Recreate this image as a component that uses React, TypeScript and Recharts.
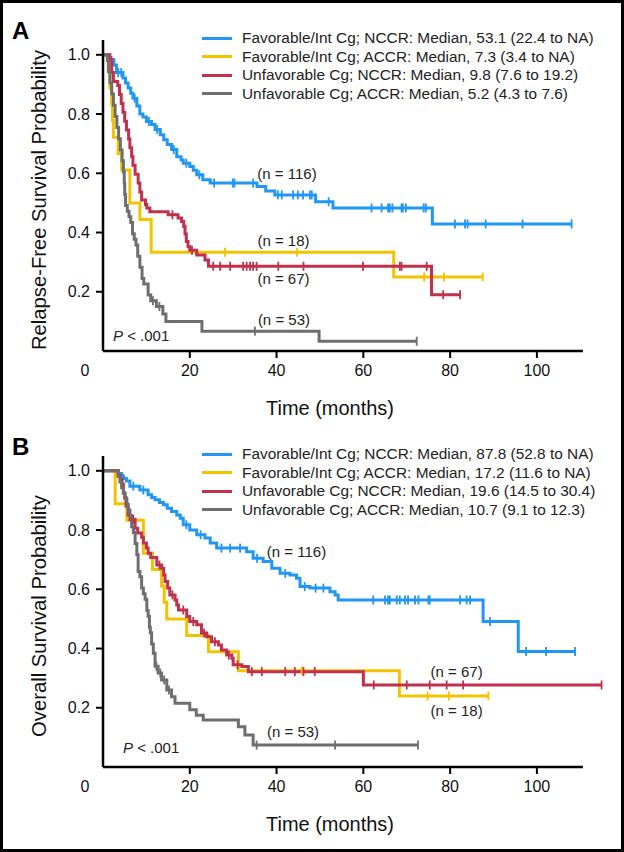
import React from "react";
import { LineChart, Line, XAxis, YAxis, ReferenceLine, ReferenceDot } from "recharts";

// [months, survival, censored?]
type Row = [number, number, number?];

const xTicks = [0, 20, 40, 60, 80, 100];
const yTicks = [0.2, 0.4, 0.6, 0.8, 1.0];
const axisEnd = 110.6;

const colors = ["#2196F3", "#F2C300", "#C1304C", "#6E6E6E"];

const rfsNames = [
  "Favorable/Int Cg; NCCR: Median, 53.1 (22.4 to NA)",
  "Favorable/Int Cg; ACCR: Median, 7.3 (3.4 to NA)",
  "Unfavorable Cg; NCCR: Median, 9.8 (7.6 to 19.2)",
  "Unfavorable Cg; ACCR: Median, 5.2 (4.3 to 7.6)",
];
const osNames = [
  "Favorable/Int Cg; NCCR: Median, 87.8 (52.8 to NA)",
  "Favorable/Int Cg; ACCR: Median, 17.2 (11.6 to NA)",
  "Unfavorable Cg; NCCR: Median, 19.6 (14.5 to 30.4)",
  "Unfavorable Cg; ACCR: Median, 10.7 (9.1 to 12.3)",
];

// Panel A: relapse-free survival
const rfsFavNccr: Row[] = [
  [0, 1], [1.3, 0.991], [1.8, 0.983], [2.5, 0.966], [3.1, 0.94], [3.5, 0.94, 1], [4.2, 0.94, 1],
  [4.6, 0.922], [5.2, 0.905], [5.8, 0.888], [6.4, 0.87], [6.9, 0.853], [7.3, 0.853, 1], [7.8, 0.827],
  [8.5, 0.8], [9.2, 0.79], [10.0, 0.775], [10.6, 0.775, 1], [11.2, 0.765], [12.0, 0.748], [12.5, 0.748, 1],
  [13.2, 0.73], [14.0, 0.713], [14.8, 0.697], [15.8, 0.68], [16.3, 0.68, 1], [17.0, 0.656], [18.0, 0.645],
  [18.5, 0.634], [19.2, 0.634, 1], [20.0, 0.623], [20.8, 0.61], [21.6, 0.595], [22.2, 0.595, 1],
  [23.0, 0.578], [24.7, 0.567], [25.6, 0.567, 1], [29.9, 0.567, 1], [30.3, 0.567, 1], [34.6, 0.567, 1],
  [35.5, 0.555], [37.5, 0.54], [39.6, 0.527], [40.3, 0.527, 1], [41.2, 0.527, 1], [43.8, 0.527, 1],
  [44.9, 0.527, 1], [46.1, 0.527, 1], [47.7, 0.527, 1], [48.1, 0.527, 1], [49.0, 0.504], [52.0, 0.504, 1],
  [53.0, 0.483], [61.9, 0.483, 1], [64.2, 0.483, 1], [65.7, 0.483, 1], [66.1, 0.483, 1], [66.7, 0.483, 1],
  [68.8, 0.483, 1], [69.1, 0.483, 1], [69.8, 0.483, 1], [73.9, 0.483, 1], [74.4, 0.483, 1], [75.9, 0.429],
  [81.1, 0.429, 1], [83.4, 0.429, 1], [84.0, 0.429, 1], [88.2, 0.429, 1], [96.7, 0.429, 1], [108.0, 0.429, 1],
];
const rfsFavAccr: Row[] = [
  [0, 1], [1.2, 0.944], [1.6, 0.889], [2.0, 0.833], [2.2, 0.778], [2.4, 0.722], [3.5, 0.667],
  [4.3, 0.611], [6.2, 0.5], [8.5, 0.444], [11.1, 0.333], [28.1, 0.333, 1], [44.7, 0.333, 1],
  [67.0, 0.25], [74.0, 0.25, 1], [78.6, 0.25, 1], [87.5, 0.25, 1],
];
const rfsUnfNccr: Row[] = [
  [0, 1], [1.6, 0.985], [2.0, 0.94], [2.4, 0.91], [3.4, 0.896], [3.8, 0.866], [4.2, 0.836], [4.6, 0.806],
  [5.0, 0.776], [5.4, 0.746], [5.9, 0.716], [6.2, 0.686], [6.6, 0.657], [6.9, 0.627], [7.4, 0.597],
  [8.1, 0.567], [8.5, 0.537], [8.9, 0.51], [9.8, 0.495], [10.1, 0.483], [10.8, 0.47], [15.0, 0.46],
  [16.0, 0.46, 1], [17.3, 0.449], [18.1, 0.437], [18.6, 0.42], [18.9, 0.395], [19.2, 0.37], [19.6, 0.352],
  [20.0, 0.34], [20.5, 0.34, 1], [21.6, 0.324], [23.5, 0.307], [24.3, 0.286], [25.4, 0.286, 1],
  [27.0, 0.286, 1], [29.3, 0.286, 1], [32.3, 0.286, 1], [33.1, 0.286, 1], [33.9, 0.286, 1], [34.6, 0.286, 1],
  [35.4, 0.286, 1], [40.4, 0.286, 1], [46.2, 0.286, 1], [59.9, 0.286, 1], [68.4, 0.286, 1], [68.8, 0.286, 1],
  [74.6, 0.286, 1], [75.7, 0.19], [78.4, 0.19, 1], [82.3, 0.19, 1],
];
const rfsUnfAccr: Row[] = [
  [0, 1], [1.0, 0.981], [1.3, 0.943], [1.6, 0.906], [2.0, 0.868], [2.4, 0.83], [2.8, 0.792], [3.2, 0.755],
  [3.6, 0.717], [4.0, 0.679], [4.4, 0.642], [4.7, 0.604], [4.9, 0.566], [5.0, 0.528], [5.2, 0.491],
  [5.6, 0.472], [6.0, 0.453], [6.4, 0.434], [6.8, 0.396], [7.2, 0.377], [7.6, 0.358], [8.0, 0.32],
  [8.5, 0.283], [9.0, 0.245], [9.4, 0.226], [10.4, 0.189], [11.0, 0.17], [11.5, 0.17, 1], [12.3, 0.15],
  [13.0, 0.15, 1], [13.8, 0.125], [14.5, 0.1], [22.8, 0.067], [35.0, 0.067, 1], [49.8, 0.033],
  [72.3, 0.033, 1],
];

// Panel B: overall survival
const osFavNccr: Row[] = [
  [0, 1], [3.5, 0.991], [4.3, 0.983], [4.7, 0.974], [5.4, 0.966], [6.2, 0.948], [7.0, 0.948, 1],
  [8.5, 0.935], [9.3, 0.935, 1], [10.4, 0.919], [11.2, 0.91], [12.0, 0.902], [13.0, 0.893], [13.9, 0.885],
  [14.8, 0.874], [15.8, 0.863], [17.0, 0.851], [17.8, 0.84], [18.5, 0.818], [19.2, 0.818, 1], [20.0, 0.8],
  [21.6, 0.784], [22.5, 0.784, 1], [23.5, 0.773], [24.7, 0.756], [26.2, 0.739], [27.3, 0.739, 1],
  [29.3, 0.739, 1], [31.6, 0.739, 1], [33.1, 0.727], [34.6, 0.705], [35.5, 0.705, 1], [36.9, 0.694],
  [38.9, 0.671], [40.8, 0.654], [42.0, 0.654, 1], [43.1, 0.648], [44.6, 0.637], [45.4, 0.609],
  [46.5, 0.609, 1], [47.7, 0.604], [49.0, 0.604, 1], [50.8, 0.604, 1], [52.3, 0.592], [53.5, 0.581],
  [54.2, 0.564], [62.3, 0.564, 1], [65.0, 0.564, 1], [65.7, 0.564, 1], [66.1, 0.564, 1], [67.7, 0.564, 1],
  [68.4, 0.564, 1], [69.6, 0.564, 1], [70.3, 0.564, 1], [71.9, 0.564, 1], [72.7, 0.564, 1], [75.0, 0.564, 1],
  [75.3, 0.564, 1], [82.3, 0.564, 1], [83.8, 0.564, 1], [84.6, 0.564, 1], [87.6, 0.491], [89.2, 0.491, 1],
  [95.7, 0.39], [97.5, 0.39, 1], [102.1, 0.39, 1], [108.8, 0.39, 1],
];
const osFavAccr: Row[] = [
  [0, 1], [2.8, 0.889], [5.5, 0.833], [9.3, 0.722], [11.4, 0.667], [13.5, 0.611], [14.1, 0.556],
  [14.7, 0.5], [19.3, 0.444], [24.3, 0.389], [31.2, 0.325], [45.8, 0.325, 1], [68.3, 0.24],
  [74.8, 0.24, 1], [79.7, 0.24, 1], [88.8, 0.24, 1],
];
const osUnfNccr: Row[] = [
  [0, 1], [3.5, 0.985], [4.0, 0.97], [4.4, 0.955], [4.7, 0.925], [5.0, 0.91], [5.3, 0.881], [5.8, 0.851],
  [6.2, 0.836], [7.0, 0.836, 1], [7.4, 0.806], [8.0, 0.79], [8.9, 0.776], [9.3, 0.756], [10.0, 0.739],
  [10.4, 0.722], [11.0, 0.707], [12.4, 0.682], [13.0, 0.682, 1], [13.5, 0.671], [14.0, 0.648], [14.3, 0.626],
  [14.9, 0.604], [15.4, 0.581], [16.0, 0.581, 1], [16.6, 0.564], [17.0, 0.547], [17.4, 0.53], [18.5, 0.53, 1],
  [19.3, 0.508], [20.0, 0.491], [20.8, 0.491, 1], [21.6, 0.48], [22.7, 0.452], [23.3, 0.452, 1], [23.9, 0.44],
  [25.0, 0.423], [25.8, 0.423, 1], [26.6, 0.412], [27.3, 0.395], [28.5, 0.378], [29.0, 0.378, 1],
  [29.7, 0.367], [30.0, 0.345], [31.0, 0.345, 1], [32.0, 0.339], [33.5, 0.322], [34.3, 0.322, 1],
  [36.6, 0.322, 1], [42.0, 0.322, 1], [44.2, 0.322, 1], [46.2, 0.322, 1], [48.8, 0.322, 1], [60.0, 0.277],
  [62.4, 0.277, 1], [70.0, 0.277, 1], [75.3, 0.277, 1], [79.2, 0.277, 1], [83.0, 0.277, 1], [114.9, 0.277, 1],
];
const osUnfAccr: Row[] = [
  [0, 1], [3.5, 0.981], [3.9, 0.962], [4.3, 0.943], [4.7, 0.925], [5.1, 0.906], [5.5, 0.887], [5.8, 0.868],
  [6.2, 0.849], [6.6, 0.811], [7.0, 0.792], [7.4, 0.755], [7.8, 0.717], [8.1, 0.66], [8.5, 0.642],
  [8.9, 0.604], [9.3, 0.585], [9.7, 0.566], [10.1, 0.528], [10.4, 0.509], [10.7, 0.472], [10.9, 0.453],
  [11.2, 0.415], [11.6, 0.384], [12.0, 0.34], [12.3, 0.34, 1], [12.7, 0.317], [13.2, 0.317, 1], [13.5, 0.294],
  [14.1, 0.294, 1], [14.7, 0.26], [15.2, 0.26, 1], [15.8, 0.237], [16.6, 0.215], [20.0, 0.193], [21.5, 0.175],
  [23.1, 0.159], [31.2, 0.136], [32.7, 0.108], [34.6, 0.074], [35.4, 0.074, 1], [53.5, 0.074, 1],
  [72.6, 0.074, 1],
];

// in-plot annotations: [months, survival, text]
const rfsNotes: [number, number, string][] = [
  [42.4, 0.598, "(n = 116)"],
  [41.6, 0.373, "(n = 18)"],
  [41.6, 0.243, "(n = 67)"],
  [41.7, 0.105, "(n = 53)"],
];
const osNotes: [number, number, string][] = [
  [44.6, 0.727, "(n = 116)"],
  [81.5, 0.322, "(n = 67)"],
  [81.5, 0.189, "(n = 18)"],
  [43.8, 0.119, "(n = 53)"],
];
const rfsP: [number, number] = [2.3, 0.052];
const osP: [number, number] = [4.6, 0.064];

const FONT = "'Liberation Sans', Arial, Helvetica, sans-serif";

const toPts = (rows: Row[]) => rows.map(([t, s, c]) => ({ t, s, c: !!c }));

const censorDot = (color: string) => (p: any) => {
  const { cx, cy, payload, index } = p;
  if (!payload || !payload.c) return <g key={`d-${index}`} />;
  return (
    <line key={`d-${index}`} x1={cx} x2={cx} y1={cy - 4.5} y2={cy + 4.5} stroke={color} strokeWidth={1.8} />
  );
};

const TICK_SIZE = 7;
const TICK_MARGIN = 7;

const XTick = (props: any) => {
  const { x, y, payload } = props;
  const zero = payload.value === 0;
  return (
    <g>
      {!zero && (
        <line x1={x} x2={x} y1={y - TICK_SIZE - TICK_MARGIN} y2={y - TICK_MARGIN} stroke="#000" strokeWidth={2} />
      )}
      <text x={zero ? x - 18 : x} y={y} dy="0.71em" textAnchor="middle" fontSize={16} fontFamily={FONT} fill="#111">
        {payload.value}
      </text>
    </g>
  );
};

const NoteShape = (text: string) => (p: any) => (
  <text x={p.cx} y={p.cy} dy="0.35em" textAnchor="middle" fontSize={15} fontFamily={FONT} fill="#222">
    {text}
  </text>
);

const PShape = (p: any) => (
  <text x={p.cx} y={p.cy} dy="0.35em" textAnchor="start" fontSize={15} fontFamily={FONT} fill="#222">
    <tspan fontStyle="italic">P</tspan> {"< .001"}
  </text>
);

function Panel(props: {
  top: number;
  letter: string;
  yTitle: string;
  yTitleLen: number;
  series: Row[][];
  names: string[];
  notes: [number, number, string][];
  p: [number, number];
}) {
  const { top, letter, yTitle, yTitleLen, series, names, notes, p } = props;
  return (
    <div style={{ position: "absolute", left: 0, top, width: 624, height: 436 }}>
      <LineChart width={624} height={436} margin={{ top: 40, right: 22, left: 0, bottom: 0 }}>
        <XAxis
          type="number"
          dataKey="t"
          domain={[0, 115]}
          ticks={xTicks}
          interval={0}
          height={85}
          axisLine={false}
          tickLine={false}
          tickSize={TICK_SIZE}
          tickMargin={TICK_MARGIN}
          tick={<XTick />}
        />
        <YAxis
          type="number"
          domain={[0, 1.05]}
          ticks={yTicks}
          width={103}
          axisLine={{ stroke: "#000", strokeWidth: 2.5 }}
          tickLine={{ stroke: "#000", strokeWidth: 2 }}
          tickSize={7}
          tickMargin={6}
          tick={{ fill: "#111", fontSize: 16, fontFamily: FONT }}
          tickFormatter={(v: number) => v.toFixed(1)}
        />
        <ReferenceLine segment={[{ x: 0, y: 0 }, { x: axisEnd, y: 0 }]} stroke="#000" strokeWidth={2.5} />
        {series.map((rows, i) => (
          <Line
            key={names[i]}
            data={toPts(rows)}
            dataKey="s"
            type="stepAfter"
            stroke={colors[i]}
            strokeWidth={3}
            dot={censorDot(colors[i])}
            activeDot={false}
            isAnimationActive={false}
          />
        ))}
        {notes.map(([t, s, text]) => (
          <ReferenceDot key={text} x={t} y={s} r={0} shape={NoteShape(text)} />
        ))}
        <ReferenceDot x={p[0]} y={p[1]} r={0} shape={PShape} />
      </LineChart>
      <svg width={624} height={436} style={{ position: "absolute", left: 0, top: 0, pointerEvents: "none" }}>
        <text
          x={330}
          y={415}
          textAnchor="middle"
          fontSize={20}
          fontFamily={FONT}
          fill="#111"
          textLength={128}
          lengthAdjust="spacingAndGlyphs"
        >
          Time (months)
        </text>
        <text
          x={46}
          y={200}
          transform="rotate(-90 46 200)"
          textAnchor="middle"
          fontSize={20}
          fontFamily={FONT}
          fill="#111"
          textLength={yTitleLen}
          lengthAdjust="spacingAndGlyphs"
        >
          {yTitle}
        </text>
      </svg>
      <div
        style={{
          position: "absolute",
          left: 12,
          top: 19,
          fontFamily: FONT,
          fontWeight: "bold",
          fontSize: 24,
          lineHeight: "24px",
          color: "#000",
        }}
      >
        {letter}
      </div>
      <div style={{ position: "absolute", left: 202, top: 29, fontFamily: FONT, fontSize: 15.4, color: "#222" }}>
        {names.map((n, i) => (
          <div key={n} style={{ display: "flex", alignItems: "center", height: 18.5, whiteSpace: "nowrap" }}>
            <span style={{ display: "inline-block", width: 30, height: 3, background: colors[i], marginRight: 10 }} />
            <span>{n}</span>
          </div>
        ))}
      </div>
    </div>
  );
}

export default function App() {
  return (
    <div style={{ position: "absolute", left: 0, top: 0, width: 624, height: 852, background: "#fff", overflow: "hidden" }}>
      <Panel
        top={0}
        letter="A"
        yTitle="Relapse-Free Survival Probability"
        yTitleLen={300}
        series={[rfsFavNccr, rfsFavAccr, rfsUnfNccr, rfsUnfAccr]}
        names={rfsNames}
        notes={rfsNotes}
        p={rfsP}
      />
      <Panel
        top={416}
        letter="B"
        yTitle="Overall Survival Probability"
        yTitleLen={242}
        series={[osFavNccr, osFavAccr, osUnfNccr, osUnfAccr]}
        names={osNames}
        notes={osNotes}
        p={osP}
      />
      <div
        style={{
          position: "absolute",
          left: 0,
          top: 0,
          width: 624,
          height: 852,
          boxSizing: "border-box",
          border: "3px solid #000",
          pointerEvents: "none",
        }}
      />
    </div>
  );
}
